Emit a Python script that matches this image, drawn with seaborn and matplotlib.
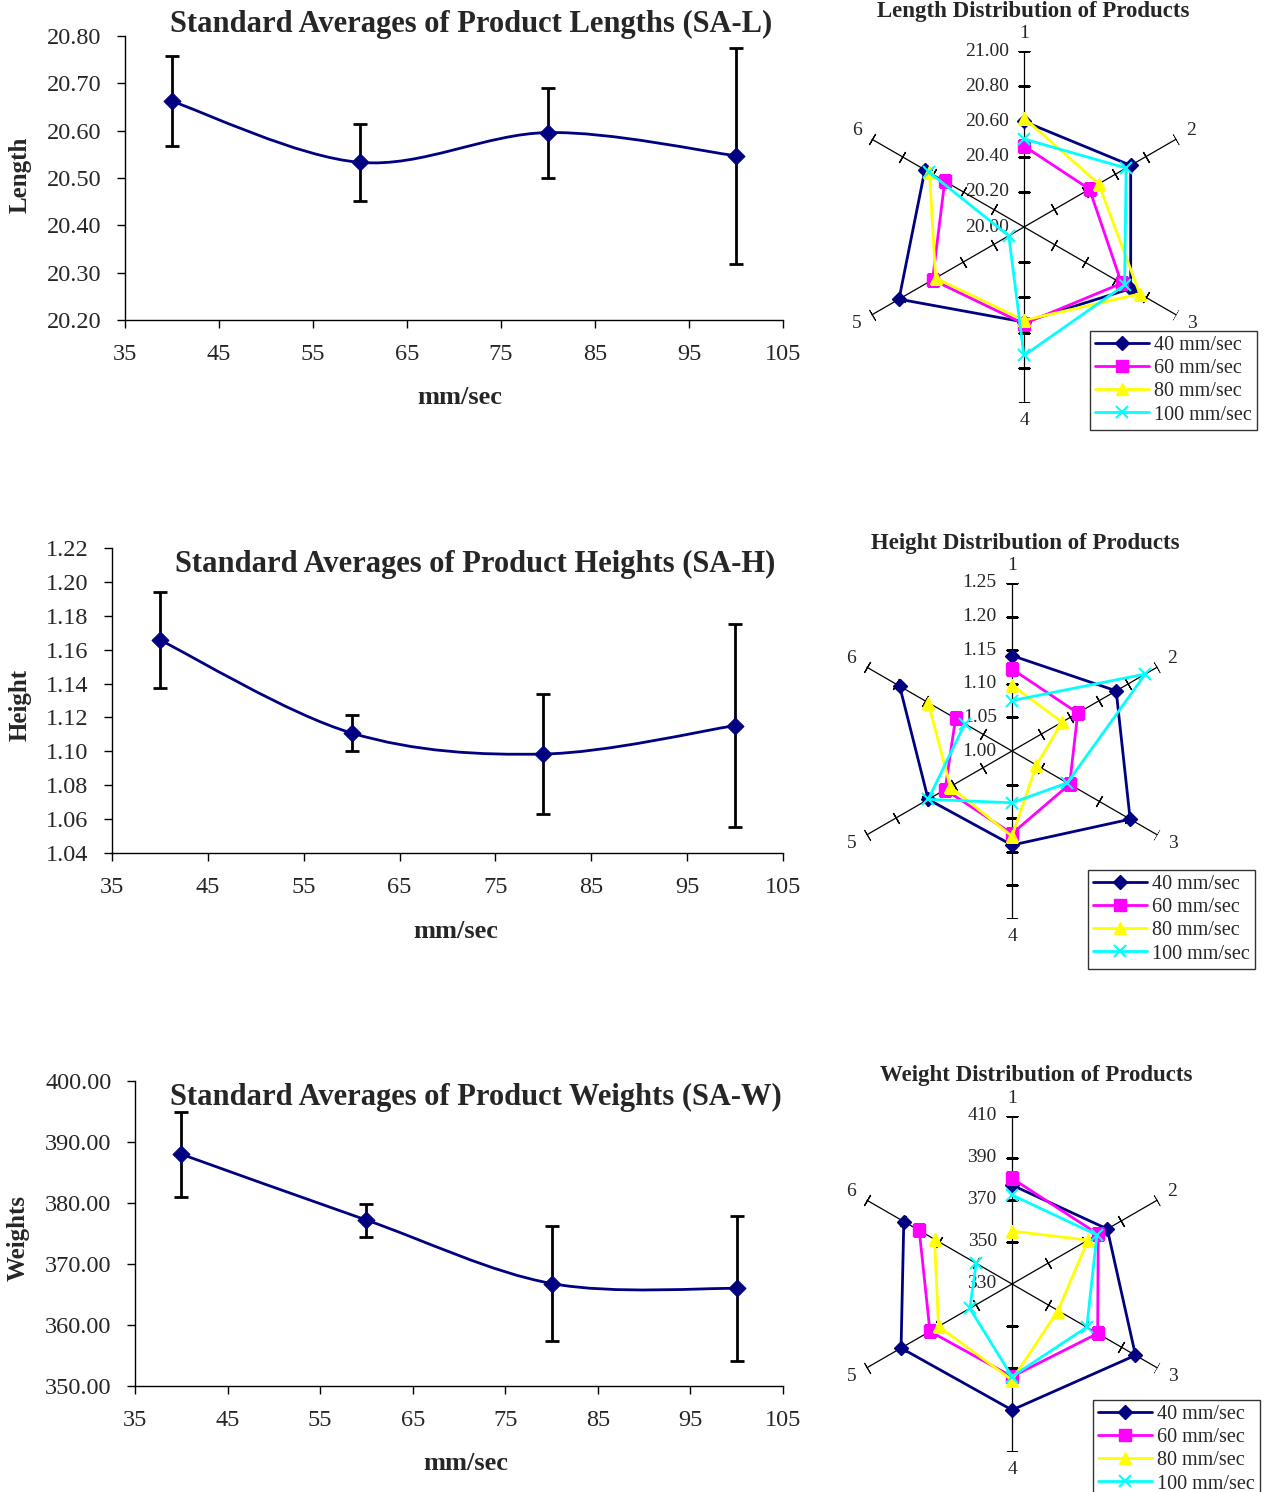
import matplotlib
matplotlib.use("Agg")
import matplotlib.pyplot as plt
import seaborn as sns
import numpy as np
import pandas as pd
from matplotlib.path import Path
from matplotlib.patches import PathPatch
from matplotlib.lines import Line2D

# ---- line charts (standard averages with error bars) ----
speeds = [40, 60, 80, 100]
len_avg = [20.662, 20.533, 20.596, 20.547]
len_err = [0.095, 0.082, 0.095, 0.228]
hgt_avg = [1.1657, 1.1108, 1.0984, 1.1152]
hgt_err = [0.0285, 0.0106, 0.0354, 0.0600]
wgt_avg = [388.0, 377.2, 366.8, 366.0]
wgt_err = [7.0, 2.7, 9.4, 11.9]

# ---- radar charts (six measuring points) ----
points = ["1", "2", "3", "4", "5", "6"]
series = ["40 mm/sec", "60 mm/sec", "80 mm/sec", "100 mm/sec"]

len_40 = [20.60, 20.70, 20.70, 20.54, 20.82, 20.65]
len_60 = [20.46, 20.43, 20.64, 20.55, 20.60, 20.52]
len_80 = [20.62, 20.49, 20.76, 20.53, 20.58, 20.62]
len_100 = [20.50, 20.67, 20.66, 20.73, 20.10, 20.62]

hgt_40 = [1.142, 1.179, 1.203, 1.140, 1.144, 1.193]
hgt_60 = [1.122, 1.113, 1.099, 1.123, 1.115, 1.097]
hgt_80 = [1.098, 1.086, 1.042, 1.127, 1.106, 1.144]
hgt_100 = [1.075, 1.229, 1.095, 1.077, 1.144, 1.081]

wgt_40 = [377.1, 382.4, 397.9, 390.0, 391.0, 389.5]
wgt_60 = [380.3, 377.4, 377.1, 374.1, 375.1, 381.0]
wgt_80 = [355.2, 371.8, 355.3, 375.7, 370.4, 372.6]
wgt_100 = [372.4, 376.7, 371.1, 374.1, 353.2, 349.7]

colors = ["#000080", "#FF00FF", "#FFFF00", "#00FFFF"]
markers = ["D", "s", "^", "x"]
msizes = [7, 8, 9, 8]

sns.set_style("ticks")
plt.rcParams['font.family'] = ['Liberation Serif', 'DejaVu Serif']

W, H = 1269, 1492
fig = plt.figure(figsize=(W / 100, H / 100), dpi=100)


def px_rect(left, top, right, bottom):
    return [left / W, 1 - bottom / H, (right - left) / W, (bottom - top) / H]


def smooth_path(xs, ys):
    pts = np.column_stack([xs, ys]).astype(float)
    n = len(pts)
    verts = [pts[0]]
    codes = [Path.MOVETO]
    for i in range(n - 1):
        p0 = pts[i - 1] if i > 0 else pts[i]
        p1, p2 = pts[i], pts[i + 1]
        p3 = pts[i + 2] if i + 2 < n else pts[i + 1]
        verts += [p1 + (p2 - p0) / 6, p2 - (p3 - p1) / 6, p2]
        codes += [Path.CURVE4] * 3
    return Path(verts, codes)


def avg_chart(rect, avg, err, ylim, ystep, fmt, title, title_xy, ylab, ylab_xy, xlab_xy):
    ax = fig.add_axes(rect)
    df = pd.DataFrame({"speed": speeds, "value": avg})
    ax.add_patch(PathPatch(smooth_path(speeds, avg), fill=False, edgecolor="#000080", lw=2, zorder=3))
    ax.errorbar(speeds, avg, yerr=err, fmt="none", ecolor="black", elinewidth=2, capsize=5, capthick=2, zorder=2)
    sns.scatterplot(data=df, x="speed", y="value", marker="D", color="#000080", s=75, edgecolor="#000080", ax=ax, zorder=4)
    ax.set_xlim(35, 105)
    ax.set_ylim(*ylim)
    ax.set_xticks(np.arange(35, 106, 10))
    yt = np.arange(ylim[0], ylim[1] + ystep / 2, ystep)
    ax.set_yticks(yt)
    ax.set_yticklabels([fmt.format(v) for v in yt])
    ax.tick_params(labelsize=17.5, direction="out", length=6, width=1, color="black")
    ax.tick_params(axis="x", pad=11)
    ax.tick_params(axis="y", pad=11)
    sns.despine(ax=ax)
    for s in ["left", "bottom"]:
        ax.spines[s].set_color("black")
        ax.spines[s].set_linewidth(1)
    ax.set_xlabel("")
    ax.set_ylabel("")
    fig.text(title_xy[0] / W, 1 - title_xy[1] / H, title, ha="center", va="center", fontsize=22, fontweight="bold")
    fig.text(ylab_xy[0] / W, 1 - ylab_xy[1] / H, ylab, ha="center", va="center", rotation=90, fontsize=18, fontweight="bold")
    fig.text(xlab_xy[0] / W, 1 - xlab_xy[1] / H, "mm/sec", ha="center", va="center", fontsize=19, fontweight="bold")


def radar(center, R, data, rmin, rmax, step, fmt, title, title_xy, leg_xy):
    cx, cy = center
    ax = fig.add_axes(px_rect(cx - R, cy - R, cx + R, cy + R), projection="polar")
    ax.set_facecolor("none")
    ax.set_theta_zero_location("N")
    ax.set_theta_direction(-1)
    ax.grid(False)
    ax.spines["polar"].set_visible(False)
    theta = np.deg2rad(np.arange(6) * 60)
    ticks = np.arange(rmin, rmax + step / 2, step)
    for t in theta:
        ax.plot([t, t], [rmin, rmax], color="black", lw=0.9, zorder=1)
        rot = 90 - np.degrees(t)
        ax.plot(np.full(len(ticks) - 1, t), ticks[1:], ls="none", marker=(2, 2, rot),
                ms=9, mec="black", mew=0.9, zorder=1)
    for v in ticks:
        ax.annotate(fmt.format(v), xy=(0, v), xytext=(-11, 0), textcoords="offset points",
                    ha="right", va="center", fontsize=14, zorder=0)
    handles = []
    for vals, name, c, m, ms in zip(data, series, colors, markers, msizes):
        df = pd.DataFrame({"theta": np.append(theta, theta[0]), "value": vals + vals[:1]})
        mew = 1.5 if m == "x" else 1
        sns.lineplot(data=df, x="theta", y="value", sort=False, color=c, lw=2, marker=m,
                     markersize=ms, markeredgecolor=c, markeredgewidth=mew, ax=ax, zorder=3)
        handles.append(Line2D([], [], color=c, lw=2, marker=m, markersize=ms, markeredgecolor=c,
                              markeredgewidth=mew, label=name))
    ax.set_ylim(rmin, rmax)
    ax.set_yticks([])
    ax.set_xticks(theta)
    ax.set_xticklabels(points, fontsize=14)
    ax.tick_params(axis="x", pad=2)
    ax.set_xlabel("")
    ax.set_ylabel("")
    fig.text(title_xy[0] / W, 1 - title_xy[1] / H, title, ha="center", va="center", fontsize=16.5, fontweight="bold")
    leg = fig.legend(handles=handles, loc="upper left", bbox_to_anchor=(leg_xy[0] / W, 1 - leg_xy[1] / H),
                     frameon=True, fancybox=False, edgecolor="black", fontsize=14.5, handlelength=2.7,
                     borderpad=0.25, labelspacing=0.2, handletextpad=0.25, borderaxespad=0)
    leg.get_frame().set_linewidth(1)


avg_chart(px_rect(125, 36, 783, 320), len_avg, len_err, (20.20, 20.80), 0.10, "{:.2f}",
          "Standard Averages of Product Lengths (SA-L)", (471, 24), "Length", (20, 175), (460, 398))
avg_chart(px_rect(112, 548, 783, 853), hgt_avg, hgt_err, (1.04, 1.22), 0.02, "{:.2f}",
          "Standard Averages of Product Heights (SA-H)", (475, 564), "Height", (20, 705), (456, 931))
avg_chart(px_rect(135, 1081, 783, 1386), wgt_avg, wgt_err, (350, 400), 10, "{:.2f}",
          "Standard Averages of Product Weights (SA-W)", (476, 1097), "Weights", (18, 1238), (466, 1464))

radar((1024, 227), 176, [len_40, len_60, len_80, len_100], 20.0, 21.0, 0.2, "{:.2f}",
      "Length Distribution of Products", (1033, 12), (1090, 331))
radar((1012, 751), 168, [hgt_40, hgt_60, hgt_80, hgt_100], 1.00, 1.25, 0.05, "{:.2f}",
      "Height Distribution of Products", (1025, 544), (1088, 870))
radar((1012, 1284), 168, [wgt_40, wgt_60, wgt_80, wgt_100], 330, 410, 20, "{:.0f}",
      "Weight Distribution of Products", (1036, 1075), (1093, 1400))

fig.savefig("out.png", dpi=100)
